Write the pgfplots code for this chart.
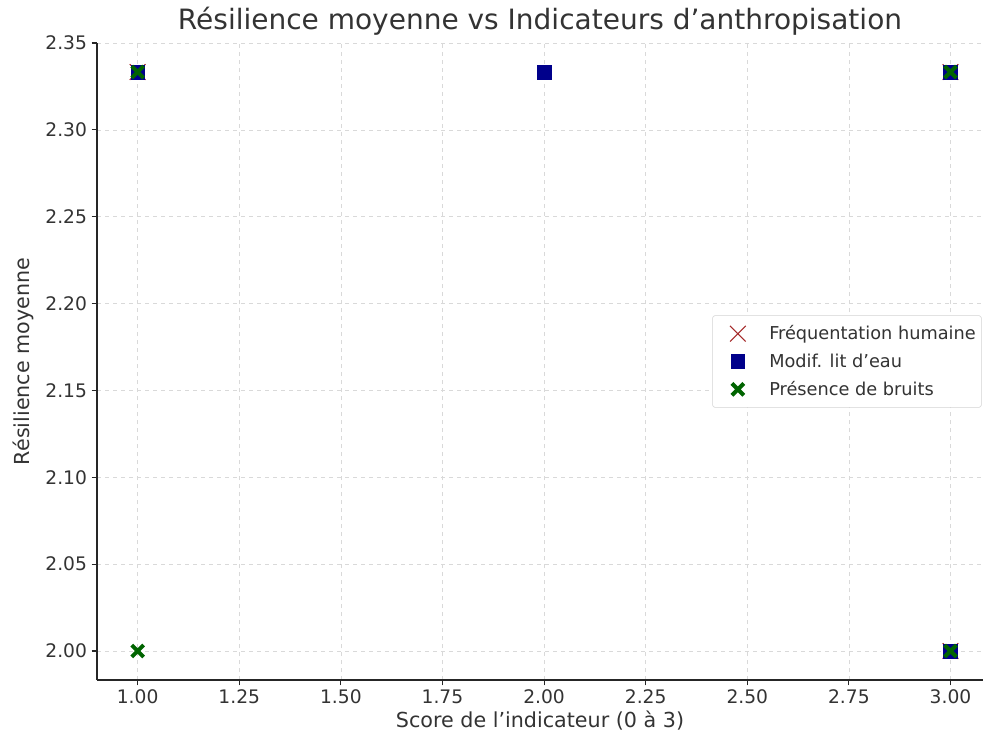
\documentclass[border=0pt]{standalone}
\usepackage{pgfplots}
\pgfplotsset{compat=1.18}
\usepackage{fontspec}
\setmainfont{DejaVu Sans}
\usetikzlibrary{plotmarks}
\definecolor{fh}{HTML}{A52A2A}
\definecolor{ml}{HTML}{00008B}
\definecolor{pb}{HTML}{006400}
\definecolor{txt}{HTML}{333333}
\pgfplotsset{myleg/.style={legend image code/.code={%
  \path (-8pt,0) (17pt,0);
  \draw[mark repeat=2,mark phase=2,##1] plot coordinates {(0cm,0cm) (0.3cm,0cm) (0.6cm,0cm)};}}}
\begin{document}
\begin{tikzpicture}
\begin{axis}[
  at={(72.75pt,45pt)}, anchor=south west,
  scale only axis, width=664.5pt, height=477.75pt,
  xmin=0.9, xmax=3.08, ymin=1.9833, ymax=2.35,
  axis x line*=bottom, axis y line*=left,
  axis line style={black!85, line width=0.9pt},
  xtick={1,1.25,...,3}, ytick={2.00,2.05,...,2.35},
  /pgf/number format/assume math mode=true,
  xticklabel style={/pgf/number format/.cd, fixed, fixed zerofill, precision=2},
  yticklabel style={/pgf/number format/.cd, fixed, fixed zerofill, precision=2},
  ticklabel style={font=\fontsize{14}{16}\selectfont, text=txt},
  tick style={black!85, line width=0.8pt},
  tick align=outside, major tick length=4pt,
  grid=major, grid style={dashed, gray!30, line width=0.5pt},
  xlabel={Score de l’indicateur (0 à 3)}, ylabel={Résilience moyenne},
  label style={font=\fontsize{15.5}{18}\selectfont, text=txt},
  xlabel style={yshift=2pt},
  ylabel style={yshift=2pt},
  title={Résilience moyenne vs Indicateurs d’anthropisation},
  title style={font=\fontsize{21}{24}\selectfont, text=txt, yshift=-4pt},
  legend style={at={(0.9985,0.5)}, anchor=east, font=\fontsize{13.3}{16}\selectfont, text=txt,
    draw=gray!35, rounded corners=2pt, row sep=5pt, inner xsep=2.25pt, inner ysep=5.5pt,
    /tikz/every odd column/.append style={column sep=12.9pt}},
  legend cell align=left,
]
\addplot[only marks, mark=x, mark size=8.3pt, fh, mark options={line width=0.8pt}, myleg]
  coordinates {(1,2.3333) (3,2.3333) (3,2.0)};
\addlegendentry{Fréquentation humaine}
\addplot[only marks, mark=square*, mark size=5.1pt, ml, myleg]
  coordinates {(1,2.3333) (2,2.3333) (3,2.3333) (3,2.0)};
\addlegendentry{Modif. lit d’eau}
\addplot[only marks, mark=x, mark size=6.3pt, pb, mark options={line width=3pt}, myleg]
  coordinates {(1,2.3333) (1,2.0) (3,2.3333) (3,2.0)};
\addlegendentry{Présence de bruits}
\end{axis}
\pgfresetboundingbox
\useasboundingbox (0,0) rectangle (738pt,555pt);
\end{tikzpicture}
\end{document}
